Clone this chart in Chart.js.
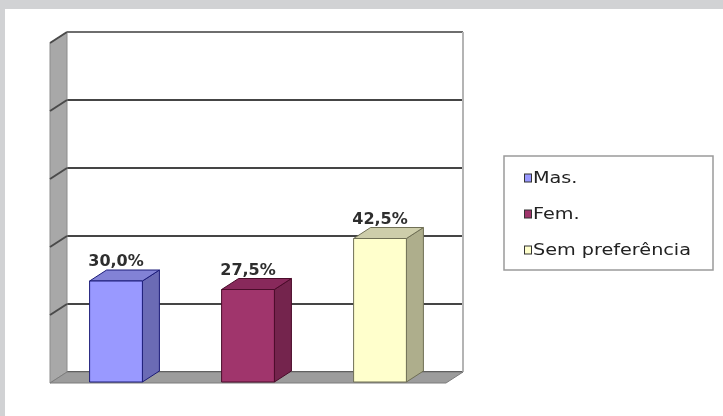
<!DOCTYPE html>
<html>
<head>
<meta charset="utf-8">
<script src="https://cdn.jsdelivr.net/npm/chart.js@4.4.1/dist/chart.umd.min.js"></script>
<style>
  html, body { margin: 0; padding: 0; background: #d1d2d4; }
  #wrap { position: absolute; left: 5px; top: 9px; width: 718px; height: 407px; background: #fff; }
</style>
</head>
<body>
<div id="wrap"><canvas id="barChart" width="718" height="407"></canvas></div>
<script>
'use strict'
const categories = ['Mas.', 'Fem.', 'Sem preferência'];
const values = [30.0, 27.5, 42.5];
const frontColors = ['#9999ff', '#a0356c', '#ffffcc'];
const sideColors = ['#6b6bb5', '#74244d', '#aeae8c'];
const topColors = ['#8282d6', '#88295b', '#cdcdaa'];
const edgeColors = ['#1c1c78', '#4a0c2a', '#6f6f55'];

// depth of the fake 3D
const DX = 17;
const DY = 11;

function poly(ctx, pts, fill, stroke) {
  ctx.beginPath();
  ctx.moveTo(pts[0][0], pts[0][1]);
  for (let i = 1; i < pts.length; i++) ctx.lineTo(pts[i][0], pts[i][1]);
  ctx.closePath();
  ctx.fillStyle = fill;
  ctx.fill();
  if (stroke) {
    ctx.strokeStyle = stroke;
    ctx.lineWidth = 1;
    ctx.stroke();
  }
}

const wallsPlugin = {
  id: 'walls',
  beforeDatasetsDraw(chart) {
    const { ctx, chartArea: a } = chart;
    const y = chart.scales.y;
    ctx.save();
    // left wall
    poly(ctx, [[a.left - DX, a.top + DY], [a.left, a.top], [a.left, a.bottom], [a.left - DX, a.bottom + DY]], '#a8a8a8', '#8c8c8c');
    ctx.strokeStyle = '#4a4a4a';
    ctx.lineWidth = 2;
    y.ticks.forEach(t => {
      const py = y.getPixelForValue(t.value);
      if (t.value === 0) return;
      ctx.beginPath();
      ctx.moveTo(a.left, py);
      ctx.lineTo(a.left - DX, py + DY);
      ctx.stroke();
    });
    // right edge of back wall
    ctx.strokeStyle = '#b4b4b4';
    ctx.lineWidth = 2;
    ctx.beginPath();
    ctx.moveTo(a.right, a.top);
    ctx.lineTo(a.right, a.bottom);
    ctx.stroke();
    // floor
    poly(ctx, [[a.left - DX, a.bottom + DY], [a.left, a.bottom], [a.right, a.bottom], [a.right - DX, a.bottom + DY]], '#9c9c9c', '#7c7c7c');
    ctx.restore();
  },
  afterDatasetsDraw(chart) {
    const { ctx } = chart;
    const meta = chart.getDatasetMeta(0);
    ctx.save();
    meta.data.forEach((bar, i) => {
      const p = bar.getProps(['x', 'y', 'base', 'width'], true);
      const l = p.x - p.width / 2, r = p.x + p.width / 2;
      poly(ctx, [[r - DX, p.y + DY], [r, p.y], [r, p.base], [r - DX, p.base + DY]], sideColors[i], edgeColors[i]);
      poly(ctx, [[l - DX, p.y + DY], [l, p.y], [r, p.y], [r - DX, p.y + DY]], topColors[i], edgeColors[i]);
      poly(ctx, [[l - DX, p.y + DY], [r - DX, p.y + DY], [r - DX, p.base + DY], [l - DX, p.base + DY]], frontColors[i], edgeColors[i]);
      ctx.fillStyle = '#2e2e2e';
      ctx.font = 'bold 16px "DejaVu Sans"';
      ctx.textAlign = 'center';
      ctx.textBaseline = 'alphabetic';
      ctx.fillText(values[i].toFixed(1).replace('.', ',') + '%', p.x - DX, p.y - 4);
    });
    ctx.restore();
  },
  afterDraw(chart) {
    // legend box
    const { ctx, chartArea: a } = chart;
    const bx = a.right + 41, by = 147, bw = 209, bh = 114;
    ctx.save();
    ctx.strokeStyle = '#9a9a9a';
    ctx.lineWidth = 1.5;
    ctx.strokeRect(bx, by, bw, bh);
    ctx.font = '16px "DejaVu Sans"';
    ctx.textBaseline = 'middle';
    ctx.textAlign = 'left';
    chart.data.labels.forEach((lab, i) => {
      const cy = by + 22 + i * 36;
      ctx.fillStyle = frontColors[i];
      ctx.fillRect(bx + 20.5, cy - 4, 7, 8);
      ctx.strokeStyle = '#333';
      ctx.lineWidth = 1;
      ctx.strokeRect(bx + 20.5, cy - 4, 7, 8);
      ctx.fillStyle = '#222';
      // text in the reference is a bit wider than the font
      ctx.save();
      ctx.translate(bx + 29, cy + 1);
      ctx.scale(1.2, 1);
      ctx.fillText(lab, 0, 0);
      ctx.restore();
    });
    ctx.restore();
  }
};

const ctx = document.getElementById('barChart').getContext('2d');
const myChart = new Chart(ctx, {
  type: 'bar',
  data: {
    labels: categories,
    datasets: [{
      data: values,
      backgroundColor: frontColors,
      borderWidth: 0,
      categoryPercentage: 1,
      barPercentage: 0.4,
    }],
  },
  options: {
    responsive: false,
    animation: false,
    layout: { padding: { left: 62, top: 23, right: 260, bottom: 44 } },
    plugins: {
      legend: { display: false },
      tooltip: { enabled: false },
    },
    scales: {
      x: { display: false },
      y: {
        min: 0,
        max: 100,
        ticks: { display: false, stepSize: 20 },
        border: { display: false },
        grid: {
          drawTicks: false,
          lineWidth: 2,
          color: c => c.tick && c.tick.value === 100 ? '#6e6e6e' : '#454545',
        },
      },
    },
  },
  plugins: [wallsPlugin],
});
myChart;
</script>
</body>
</html>
